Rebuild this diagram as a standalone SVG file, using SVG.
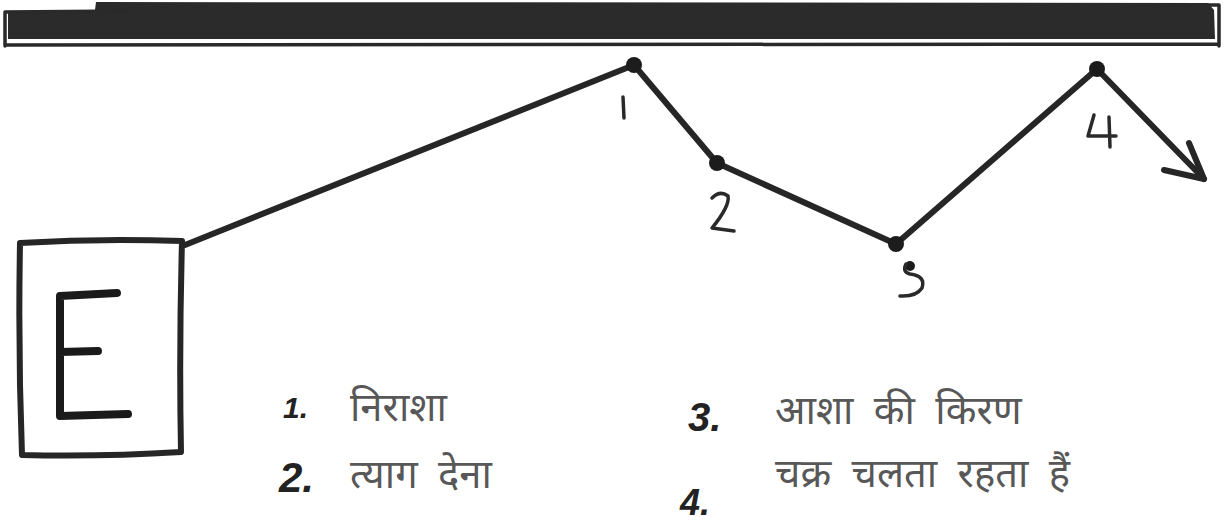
<svg xmlns="http://www.w3.org/2000/svg" width="1225" height="526" viewBox="0 0 1225 526">
<style>
.ink{fill:none;stroke:#262626;stroke-width:6;stroke-linecap:round;stroke-linejoin:round}
.thin{fill:none;stroke:#2a2a2a;stroke-width:3.5;stroke-linecap:round;stroke-linejoin:round}
.dot{fill:#1c1c1c}
.num{font-family:"Liberation Sans",sans-serif;font-style:italic;fill:#222222}
.hi{font-family:"Noto Sans Devanagari","Noto Sans","Noto Sans CJK SC",sans-serif;fill:#585858;font-size:40px;word-spacing:10px}
</style>
<rect width="1225" height="526" fill="#ffffff"/>
<g id="ceiling">
<path d="M8,11 L95,10 L96,2 L1208,3 L1214,10 L1215,39 L8,39 Z" fill="#2b2b2b"/>
<path class="thin" d="M5,12 L130,11 M5,12 L5,46 M5,45 L1219,44 M1219,5 L1219,46 M1150,5 L1219,5"/>
</g>
<g id="node-E">
<path class="ink" d="M20,243 Q100,238 182,241 Q179,350 181,452 Q100,457 22,455 Q18,350 20,243 Z"/>
<path d="M60,296 L60,416 M60,296 L117,293 M60,352 L98,351 M60,416 L128,414" fill="none" stroke="#1a1a1a" stroke-width="8" stroke-linecap="round"/>
</g>
<g id="connectors">
<polyline class="ink" points="185,245 634,65 717,163 896,244 1097,69 1204,179"/>
<path class="ink" d="M1189,143 L1204,179 L1164,170"/>
</g>
<g id="point-1"><circle class="dot" cx="634" cy="65" r="8"/><path class="thin" d="M623,97 L624,118"/></g>
<g id="point-2"><circle class="dot" cx="717" cy="163" r="8"/><path class="thin" stroke-width="4" d="M712,198 Q720,190 728,196 Q730,206 712,228 L734,231"/></g>
<g id="point-3"><circle class="dot" cx="896" cy="244" r="8"/><circle class="dot" cx="910" cy="266" r="5"/><path class="thin" stroke-width="5" d="M906,264 Q902,272 910,274 Q926,276 922,288 Q916,297 900,296"/></g>
<g id="point-4"><circle class="dot" cx="1097" cy="69" r="8"/><path class="thin" stroke-width="4" d="M1094,115 L1088,136 L1116,136 M1109,117 L1110,147"/></g>
<g id="legend">
<text class="num" x="283" y="418" font-size="30" font-weight="bold">1.</text>
<text class="hi" x="350" y="421">निराशा</text>
<text class="num" x="279" y="492" font-size="42" font-weight="bold">2.</text>
<text class="hi" x="350" y="488">त्याग देना</text>
<text class="num" x="688" y="431" font-size="40" font-weight="bold">3.</text>
<text class="hi" x="775" y="424">आशा की किरण</text>
<text class="hi" x="775" y="487">चक्र चलता रहता हैं</text>
<text class="num" x="680" y="515" font-size="36" font-weight="bold">4.</text>
</g>
</svg>
